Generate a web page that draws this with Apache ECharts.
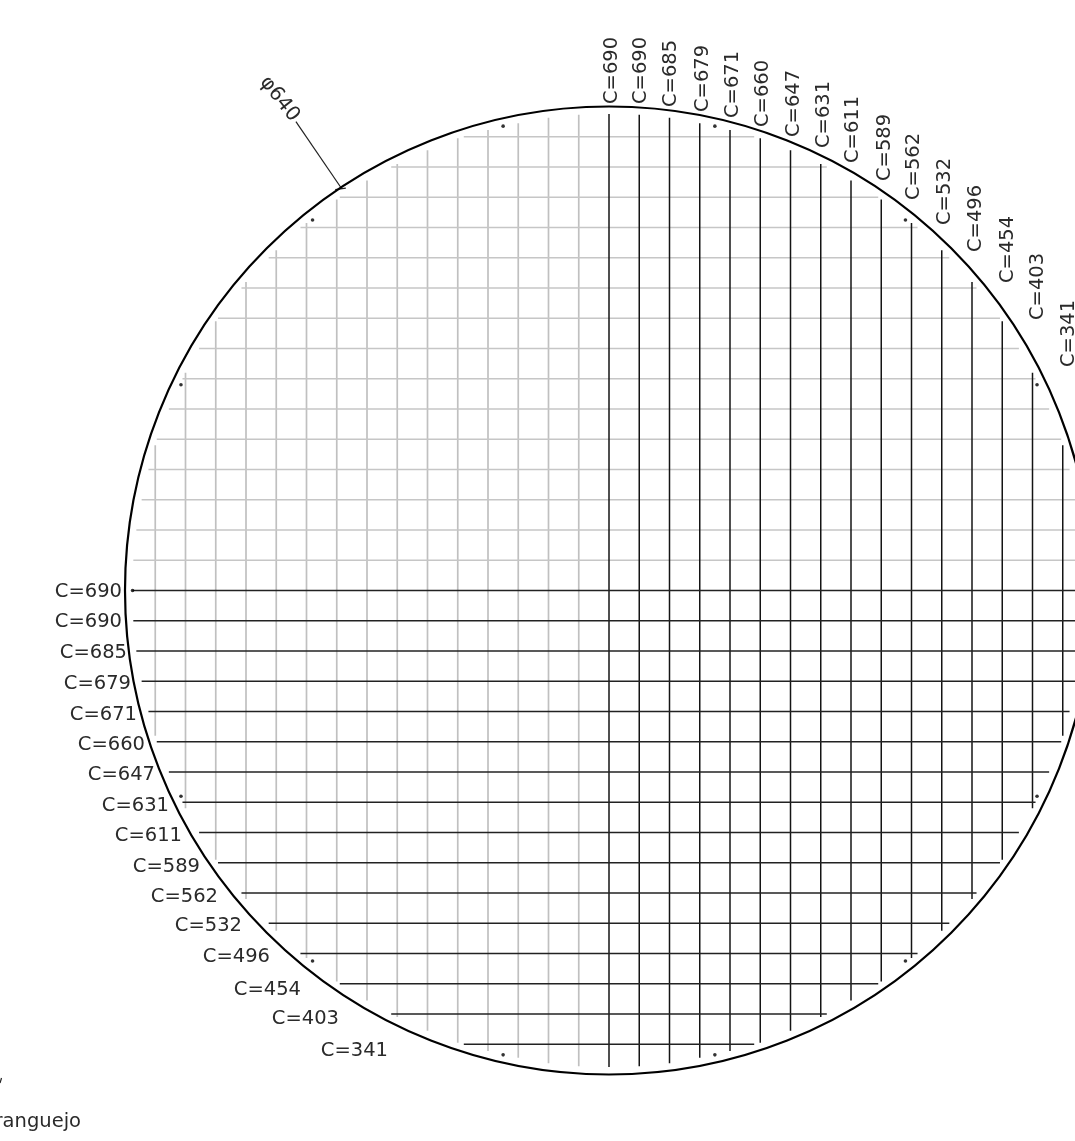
<!DOCTYPE html>
<html>
<head>
<meta charset="utf-8">
<style>html,body{margin:0;padding:0;background:#fff;overflow:hidden}#c{width:1075px;height:1141px}</style>
<script src="https://cdn.jsdelivr.net/npm/echarts@6/dist/echarts.min.js"></script>
</head>
<body>
<div id="c"></div>
<script>
// Data (mm)
const diameter = 640;
const barOffsets = [0, 20, 40, 60, 80, 100, 120, 140, 160, 180, 200, 220, 240, 260, 280, 300];
const barHalfSpans = [315, 314.5, 312.5, 309, 304.5, 299, 291, 282, 271, 258.5, 243, 225, 204, 178, 144, 96];
const cutLengths = [690, 690, 685, 679, 671, 660, 647, 631, 611, 589, 562, 532, 496, 454, 403, 341];
const dotsX = [-70, 70, -196, 196, -283, 283, -315, -283, 283, -196, 196, -70, 70];
const dotsY = [307, 307, 245, 245, 136, 136, 0, -136, -136, -245, -245, -307, -307];
const leaderX = [-207, -176.7];
const leaderY = [310, 265.6];
const tickX = [-181, -174];
const tickY = [265, 266];

// Layout (page pixels)
const cx = 609, cy = 590.5, pxPerMm = 1.5125;
const topLabelX = [612, 641, 671, 703, 733, 763, 794, 824, 853, 885, 914, 945, 976, 1008, 1038, 1069];
const topLabelBottom = [104, 104, 107, 112, 118, 127, 137, 148, 163, 181, 200, 225, 252, 283, 320, 367];
const leftLabelRight = [122, 122, 127, 131, 137, 145, 155, 169, 182, 200, 218, 242, 270, 301, 339, 388];
const leftLabelY = [592, 622, 653, 684, 715, 745, 775, 806, 836, 867, 897, 926, 957, 990, 1019, 1051];

const font = '"DejaVu Sans"';
const ink = '#2a2a2a';
const txt = (x, y, text, align, rot, size) => ({
  type: 'text', x, y, rotation: rot || 0,
  style: { text, x: 0, y: 0, fill: ink, font: (size || 19.5) + 'px ' + font, align: align, verticalAlign: 'middle' }
});

function lineSeries(name, data, color, width, z) {
  // data items: [x1, y1, x2, y2]
  return {
    type: 'custom', name, data, z, silent: true, animation: false, clip: true,
    encode: { x: 0, y: 1 },
    renderItem: (p, api) => {
      const a = api.coord([api.value(0), api.value(1)]);
      const b = api.coord([api.value(2), api.value(3)]);
      return { type: 'line', shape: { x1: a[0], y1: a[1], x2: b[0], y2: b[1] },
        style: { stroke: color, lineWidth: width, fill: null } };
    }
  };
}

const idx = barOffsets.map((_, i) => i);
const grayV = idx.slice(1).map(i => [-barOffsets[i], -barHalfSpans[i], -barOffsets[i], barHalfSpans[i]]);
const grayH = idx.slice(1).map(i => [-barHalfSpans[i], barOffsets[i], barHalfSpans[i], barOffsets[i]]);
const blackV = idx.map(i => [barOffsets[i], -barHalfSpans[i], barOffsets[i], barHalfSpans[i]]);
const blackH = idx.map(i => [-barHalfSpans[i], -barOffsets[i], barHalfSpans[i], -barOffsets[i]]);

const textItems = [];
idx.forEach(i => {
  textItems.push(txt(topLabelX[i], topLabelBottom[i], 'C=' + cutLengths[i], 'left', Math.PI / 2));
  textItems.push(txt(leftLabelRight[i], leftLabelY[i], 'C=' + cutLengths[i], 'right', 0));
});
textItems.push(txt(279.5, 99, '\u03C6' + diameter, 'center', -0.9, 20));
textItems.push(txt(81, 1122, 'Caranguejo', 'right', 0));

const option = {
  backgroundColor: '#fff',
  animation: false,
  grid: { left: 0, right: 0, top: 0, bottom: 0, containLabel: false },
  xAxis: { type: 'value', show: false, min: (0 - cx) / pxPerMm, max: (1075 - cx) / pxPerMm, splitLine: { show: false } },
  yAxis: { type: 'value', show: false, min: (cy - 1141) / pxPerMm, max: cy / pxPerMm, splitLine: { show: false } },
  series: [
    lineSeries('grayV', grayV, '#c0c0c0', 1.7, 1),
    lineSeries('grayH', grayH, '#c6c6c6', 1.7, 1),
    lineSeries('blackV', blackV, '#141414', 1.5, 2),
    lineSeries('blackH', blackH, '#222222', 1.5, 2),
    lineSeries('leader', [[leaderX[0], leaderY[0], leaderX[1], leaderY[1]], [tickX[0], tickY[0], tickX[1], tickY[1]]], '#222', 1.2, 3),
    {
      type: 'custom', name: 'outline', data: [[0, 0, diameter / 2]], z: 4, silent: true, animation: false,
      renderItem: (p, api) => {
        const c = api.coord([api.value(0), api.value(1)]);
        const r = api.size([api.value(2), 0])[0];
        return { type: 'circle', shape: { cx: c[0], cy: c[1], r }, style: { fill: null, stroke: '#000', lineWidth: 2.2 } };
      }
    },
    {
      type: 'scatter', name: 'dots', z: 5, silent: true, symbol: 'circle', symbolSize: 3.6,
      itemStyle: { color: '#000' }, data: dotsX.map((x, i) => [x, dotsY[i]])
    },
    {
      type: 'custom', name: 'texts', coordinateSystem: 'none', data: [0], z: 6, silent: true, animation: false,
      renderItem: () => ({ type: 'group', children: textItems })
    }
  ],
  graphic: [{ type: 'line', shape: { x1: 0, y1: 1083, x2: 1.5, y2: 1078 }, style: { stroke: '#222', lineWidth: 1.2 } }]
};
const chart = echarts.init(document.getElementById('c'), null, { renderer: 'canvas' });
chart.setOption(option);
</script>
</body>
</html>
